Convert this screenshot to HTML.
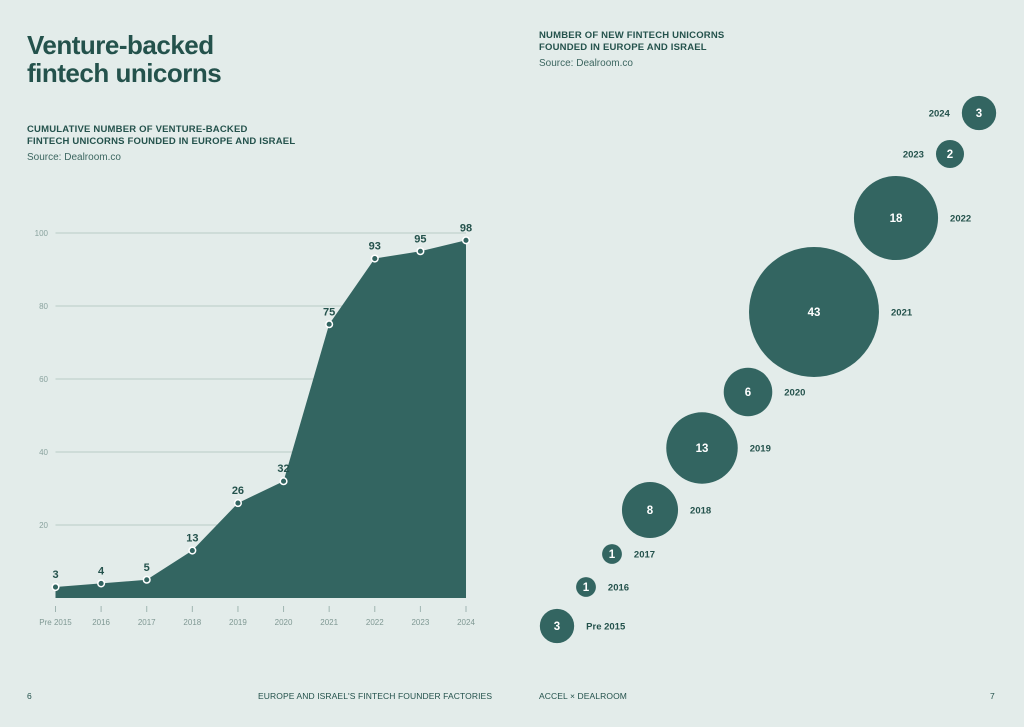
<!DOCTYPE html>
<html><head><meta charset="utf-8"><style>
html,body{margin:0;padding:0}
body{width:1024px;height:727px;background:#e3ecea;position:relative;overflow:hidden;font-family:"Liberation Sans",sans-serif;color:#1f4a45}
.abs{position:absolute;margin:0}
h1{font-size:26px;line-height:28px;font-weight:bold;letter-spacing:-0.5px;color:#24524c}
.sub{font-size:9.5px;font-weight:bold;letter-spacing:0.2px;line-height:12px;color:#24524c}
.src{font-size:10px;color:#3c6660}
.foot{font-size:8.5px;letter-spacing:0.1px;color:#24524c}
</style></head><body>
<h1 class="abs" style="left:27px;top:31px">Venture-backed<br>fintech unicorns</h1>
<div class="abs sub" style="left:27px;top:124px">CUMULATIVE NUMBER OF VENTURE-BACKED<br>FINTECH UNICORNS FOUNDED IN EUROPE AND ISRAEL</div>
<div class="abs src" style="left:27px;top:152px">Source: Dealroom.co</div>
<div class="abs sub" style="left:539px;top:30px">NUMBER OF NEW FINTECH UNICORNS<br>FOUNDED IN EUROPE AND ISRAEL</div>
<div class="abs src" style="left:539px;top:58px">Source: Dealroom.co</div>
<div class="abs foot" style="left:27px;top:691px">6</div>
<div class="abs foot" style="left:258px;top:691px">EUROPE AND ISRAEL'S FINTECH FOUNDER FACTORIES</div>
<div class="abs foot" style="left:539px;top:691px">ACCEL × DEALROOM</div>
<div class="abs foot" style="left:990px;top:691px">7</div>
<svg class="abs" style="left:0;top:0" width="1024" height="727" id="chart"></svg>
<script>
const categories=["Pre 2015","2016","2017","2018","2019","2020","2021","2022","2023","2024"];
const cumulative=[3,4,5,13,26,32,75,93,95,98];
const newUnicorns=[3,1,1,8,13,6,43,18,2,3];
const yTicks=[20,40,60,80,100];
const NS="http://www.w3.org/2000/svg";
const svg=document.getElementById('chart');
function mk(t,a,p){const e=document.createElementNS(NS,t);for(const k in a)e.setAttribute(k,a[k]);(p||svg).appendChild(e);return e;}
const x0=55.5,x1=466,y0=598,y100=233;
const xs=i=>x0+i*(x1-x0)/(categories.length-1);
const ys=v=>y0-v*(y0-y100)/100;
const FG="#336561",TXT="#24524c";
yTicks.forEach(t=>{
  const l=mk('line',{x1:x0,x2:x1,y1:ys(t),y2:ys(t),stroke:'#b9cbc7','stroke-width':1});
  
  const tx=mk('text',{x:48,y:ys(t)+3,'text-anchor':'end','font-size':8,fill:'#8aa39f'});tx.textContent=t;
  
});
let d='M'+xs(0)+','+y0;
cumulative.forEach((v,i)=>d+=' L'+xs(i)+','+ys(v));
d+=' L'+xs(cumulative.length-1)+','+y0+' Z';
const area=mk('path',{d:d,fill:FG});

categories.forEach((c,i)=>{
  const tk=mk('line',{x1:xs(i),x2:xs(i),y1:606,y2:612,stroke:'#9fb5b1','stroke-width':1});
  
  const t=mk('text',{x:xs(i),y:625,'text-anchor':'middle','font-size':8,fill:'#7f9893'});t.textContent=c;
  
  const v=cumulative[i];
  const p=mk('circle',{cx:xs(i),cy:ys(v),r:3.3,fill:FG,stroke:'#fff','stroke-width':1.5});
  
  const lb=mk('text',{x:xs(i),y:ys(v)-9,'text-anchor':'middle','font-size':11,'font-weight':'bold',fill:TXT});lb.textContent=v;
  
});
const centers=[[557,626],[586,587],[612,554],[650,510],[702,448],[748,392],[814,312],[896,218],[950,154],[979,113]];
const k=65/Math.sqrt(43);
newUnicorns.forEach((v,i)=>{
  const r=k*Math.sqrt(v),[cx,cy]=centers[i];
  const c=mk('circle',{cx:cx,cy:cy,r:r,fill:FG});
  
  const t=mk('text',{x:cx,y:cy+4,'text-anchor':'middle','font-size':11.5,'font-weight':'bold',fill:'#fff'});t.textContent=v;
  
  const left=i>=8;
  const yl=mk('text',{x:left?cx-r-12:cx+r+12,y:cy+3.5,'text-anchor':left?'end':'start','font-size':9.5,'font-weight':'bold',fill:TXT});yl.textContent=categories[i];
  
});
</script>
</body></html>
